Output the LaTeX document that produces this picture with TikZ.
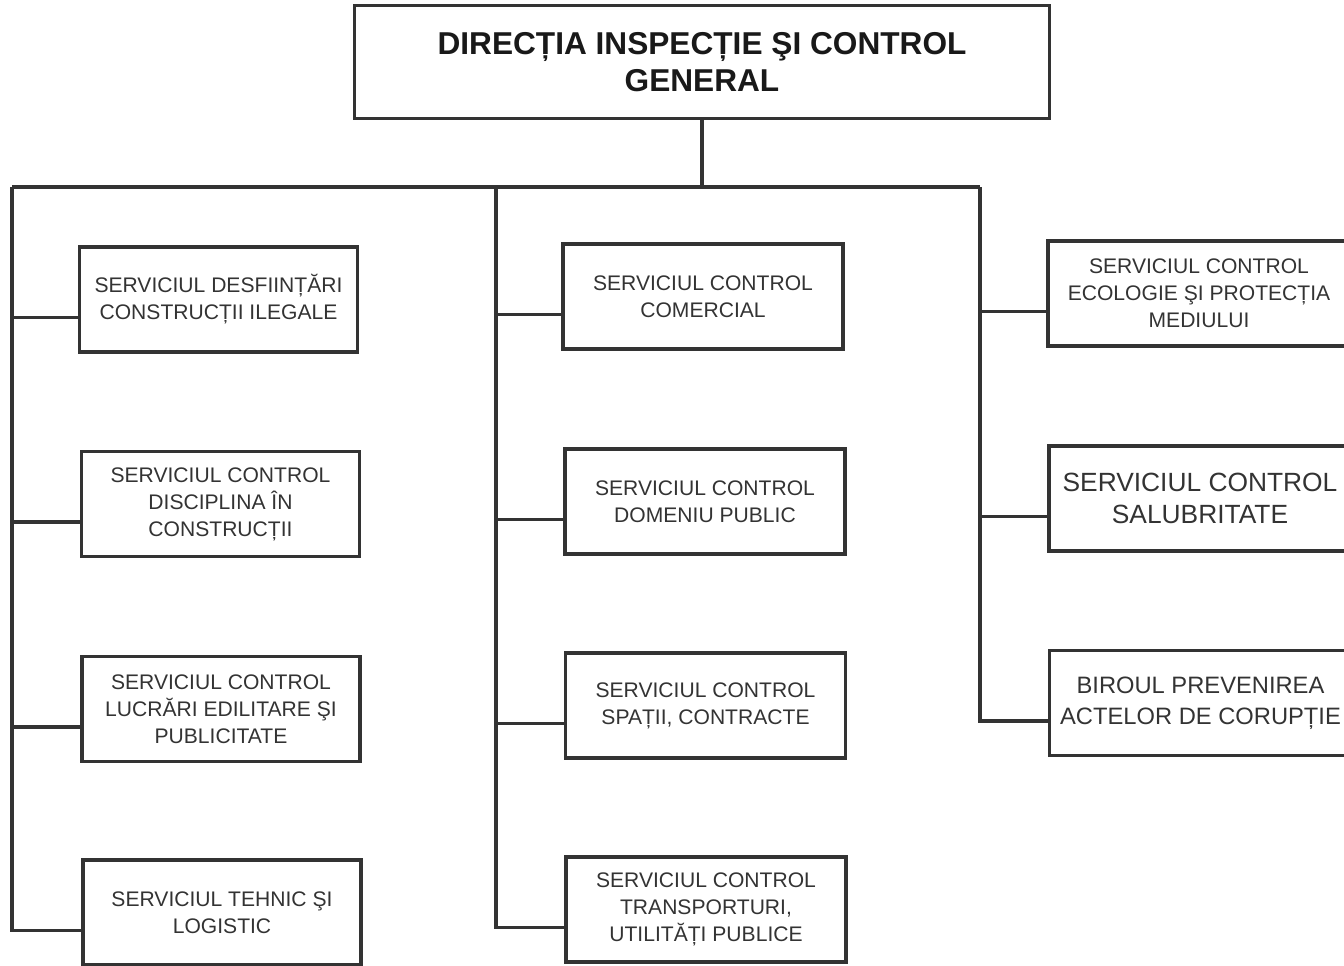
\documentclass[tikz,border=0pt]{standalone}
\usepackage{fontspec}
\setmainfont{Liberation Sans}
\usepackage{tikz}

\tikzset{
  unit/.style={draw=black!80, line width=2.1pt, minimum width=5.56cm, minimum height=2.1cm,
    align=center, text=black!80, font=\fontsize{12}{15.3}\selectfont},
  wide/.style={minimum width=6.04cm},
  wire/.style={draw=black!80, line width=2.1pt},
}

\begin{document}
\begin{tikzpicture}[x=0.02cm,y=-0.02cm]
  \clip (0,0) rectangle (1344,965);
  \node[unit, minimum width=13.9cm, minimum height=2.26cm, text=black!90,
    font=\bfseries\fontsize{18}{21.5}\selectfont] (dir) at (702,62) {DIRECȚIA INSPECȚIE ŞI CONTROL\\GENERAL};

  % left column
  \node[unit] (l1) at (218.5,299.5) {SERVICIUL DESFIINȚĂRI\\CONSTRUCȚII ILEGALE};
  \node[unit] (l2) at (220.5,504) {SERVICIUL CONTROL\\DISCIPLINA ÎN\\CONSTRUCȚII};
  \node[unit] (l3) at (221,709) {SERVICIUL CONTROL\\LUCRĂRI EDILITARE ŞI\\PUBLICITATE};
  \node[unit] (l4) at (222,912.5) {SERVICIUL TEHNIC ŞI\\LOGISTIC};

  % middle column
  \node[unit, minimum width=5.6cm] (m1) at (703,296.5) {SERVICIUL CONTROL\\COMERCIAL};
  \node[unit, minimum width=5.6cm] (m2) at (705,501.5) {SERVICIUL CONTROL\\DOMENIU PUBLIC};
  \node[unit, minimum width=5.6cm] (m3) at (705.5,705.5) {SERVICIUL CONTROL\\SPAȚII, CONTRACTE};
  \node[unit, minimum width=5.6cm] (m4) at (706,909.5) {SERVICIUL CONTROL\\TRANSPORTURI,\\UTILITĂȚI PUBLICE};

  % right column
  \node[unit, wide] (r1) at (1199,293.5) {SERVICIUL CONTROL\\ECOLOGIE ŞI PROTECȚIA\\MEDIULUI};
  \node[unit, wide, font=\fontsize{15}{18}\selectfont] (r2) at (1200,498.5) {SERVICIUL CONTROL\\SALUBRITATE};
  \node[unit, wide, font=\fontsize{13.5}{17.5}\selectfont] (r3) at (1200.5,703) {BIROUL PREVENIREA\\ACTELOR DE CORUPȚIE};

  \coordinate (bus) at (702,187);
  \coordinate (lbus) at (12,187);
  \coordinate (mbus) at (496,187);
  \coordinate (rbus) at (980,187);

  \draw[wire] (dir.south) -- (bus);
  \draw[wire] (lbus) -- (rbus);
  \foreach \n in {l1,l2,l3,l4} \draw[wire] (lbus) |- ([yshift=-0.36cm]\n.west);
  \foreach \n in {m1,m2,m3,m4} \draw[wire] (mbus) |- ([yshift=-0.36cm]\n.west);
  \foreach \n in {r1,r2,r3} \draw[wire] (rbus) |- ([yshift=-0.36cm]\n.west);
\end{tikzpicture}
\end{document}
